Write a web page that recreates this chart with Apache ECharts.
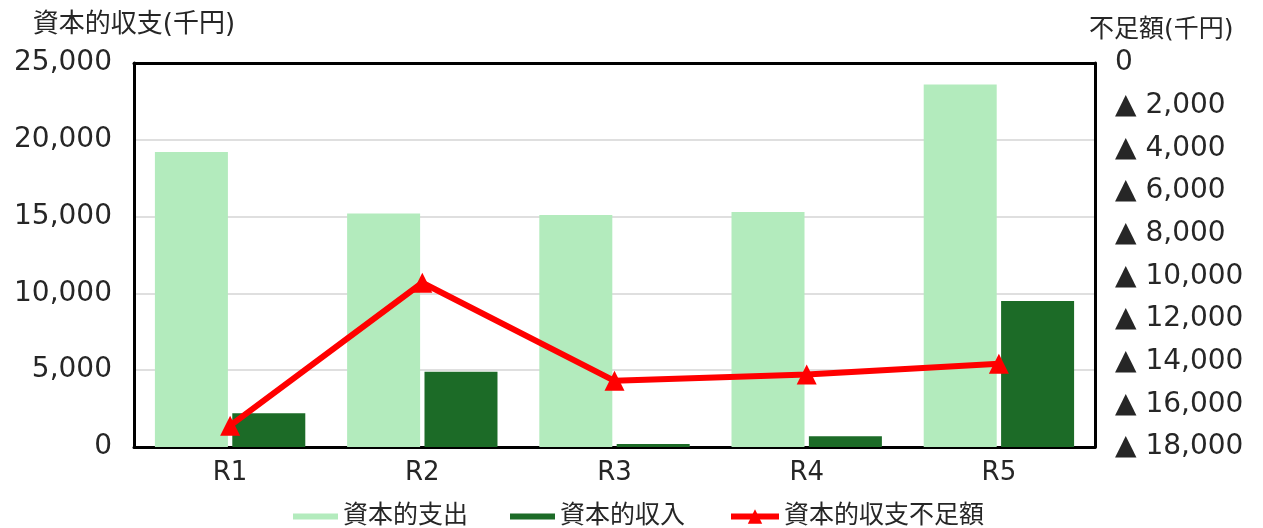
<!DOCTYPE html>
<html>
<head>
<meta charset="utf-8">
<script src="https://cdn.jsdelivr.net/npm/echarts@6/dist/echarts.min.js"></script>
<style>
html,body{margin:0;padding:0;background:#fff;}
#c{width:1263px;height:528px;}
</style>
</head>
<body>
<div id="c"></div>
<script>
// ---- data ----
const categories = ['R1', 'R2', 'R3', 'R4', 'R5'];
const expenditure = [19200, 15200, 15100, 15300, 23600];   // 資本的支出
const income = [2200, 4900, 200, 700, 9500];               // 資本的収入
const deficit = [17000, 10300, 14900, 14600, 14100];       // 資本的収支不足額 (right axis, ▲)
const seriesNames = ['資本的支出', '資本的収入', '資本的収支不足額'];
const leftAxisTitle = '資本的収支(千円)';
const rightAxisTitle = '不足額(千円)';

function commas(v) {
  return String(v).replace(/\B(?=(\d{3})+(?!\d))/g, ',');
}

const FONT = "'DejaVu Sans', 'Noto Sans CJK JP', sans-serif";
const TXT = '#262626';
const FRAME = { show: true, onZero: false, lineStyle: { color: '#000', width: 3 } };

const chart = echarts.init(document.getElementById('c'));
chart.setOption({
  animation: false,
  backgroundColor: '#fff',
  textStyle: { fontFamily: FONT, color: TXT },
  grid: { left: 134, right: 168, top: 63, bottom: 81 },
  legend: [
    {
      data: [seriesNames[0], seriesNames[1]],
      left: 288, top: 499,
      itemWidth: 45, itemHeight: 6, itemGap: 42,
      icon: 'rect',
      textStyle: { fontSize: 25, color: TXT, fontFamily: FONT }
    },
    {
      data: [seriesNames[2]],
      left: 723, top: 499,
      itemWidth: 48, itemHeight: 18, itemGap: 10,
      lineStyle: { width: 6 },
      textStyle: { fontSize: 25, color: TXT, fontFamily: FONT }
    }
  ],
  xAxis: [
    {
      type: 'category',
      data: categories,
      position: 'bottom',
      axisLine: FRAME,
      axisTick: { show: false },
      axisLabel: { fontSize: 26, color: TXT, margin: 13, fontFamily: FONT }
    },
    {
      type: 'category',
      data: categories,
      position: 'top',
      axisLine: FRAME,
      axisTick: { show: false },
      axisLabel: { show: false },
      splitLine: { show: false }
    }
  ],
  yAxis: [
    {
      type: 'value',
      min: 0, max: 25000, interval: 5000,
      name: leftAxisTitle,
      nameLocation: 'end',
      nameGap: 38,
      nameTextStyle: { fontSize: 26, color: TXT, align: 'center', verticalAlign: 'middle', fontFamily: FONT },
      axisLine: FRAME,
      axisTick: { show: false },
      axisLabel: { fontSize: 28, color: TXT, margin: 22, formatter: v => commas(v), fontFamily: FONT },
      splitLine: { show: true, lineStyle: { color: '#d4d4d4', width: 1.5 } }
    },
    {
      type: 'value',
      inverse: true,
      min: 0, max: 18000, interval: 2000,
      name: rightAxisTitle,
      nameLocation: 'start',
      nameGap: 33,
      nameTextStyle: { fontSize: 25, color: TXT, align: 'left', verticalAlign: 'middle', fontFamily: FONT, padding: [0, 0, 0, -6] },
      axisLine: FRAME,
      axisTick: { show: false },
      axisLabel: { fontSize: 28, color: TXT, margin: 20, formatter: v => v === 0 ? '0' : '▲ ' + commas(v), fontFamily: FONT },
      splitLine: { show: false }
    }
  ],
  series: [
    {
      name: seriesNames[0], type: 'bar', data: expenditure,
      barWidth: 73, barGap: '6%',
      itemStyle: { color: '#b3ebbd' }
    },
    {
      name: seriesNames[1], type: 'bar', data: income,
      barWidth: 73,
      itemStyle: { color: '#1c6b27' }
    },
    {
      name: seriesNames[2], type: 'line', data: deficit, yAxisIndex: 1,
      symbol: 'triangle', symbolSize: 20,
      lineStyle: { color: '#ff0000', width: 6 },
      itemStyle: { color: '#ff0000' },
      z: 5
    }
  ]
});
</script>
</body>
</html>
